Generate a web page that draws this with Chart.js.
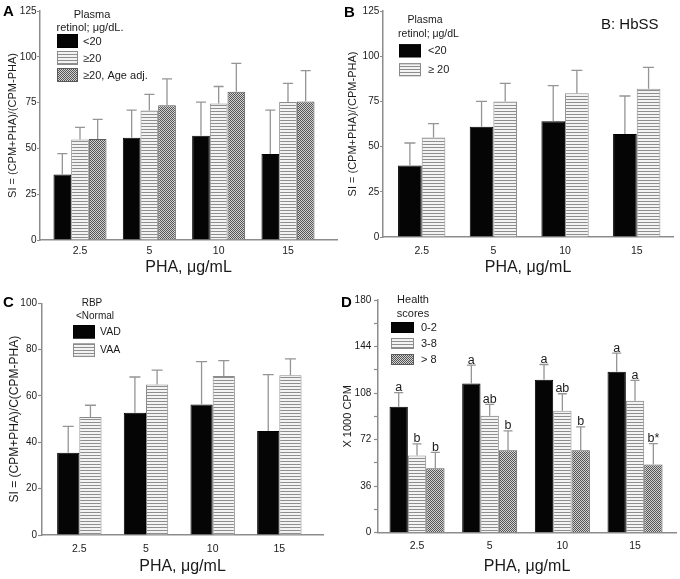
<!DOCTYPE html>
<html><head><meta charset="utf-8">
<script src="https://cdn.jsdelivr.net/npm/chart.js@4.4.1/dist/chart.umd.min.js"></script>
<style>
html,body{margin:0;padding:0;background:#fff;}
#wrap{position:relative;width:680px;height:579px;overflow:hidden;background:#fff;}
.panel{position:absolute;}
.panel canvas{display:block;}
.tag{position:absolute;font-family:Arial,"Liberation Sans",Helvetica,sans-serif;font-weight:bold;font-size:15px;line-height:15px;color:#000;}
.note{position:absolute;font-family:Arial,"Liberation Sans",Helvetica,sans-serif;font-size:15px;line-height:15px;color:#111;}
</style></head><body>
<div id="wrap">
  <div class="panel" style="left:0;top:0"><canvas id="cA" width="340" height="290"></canvas></div>
  <div class="panel" style="left:340px;top:0"><canvas id="cB" width="340" height="290"></canvas></div>
  <div class="panel" style="left:0;top:290px"><canvas id="cC" width="340" height="289"></canvas></div>
  <div class="panel" style="left:340px;top:290px"><canvas id="cD" width="340" height="289"></canvas></div>
  <div class="tag" style="left:3px;top:3px">A</div>
  <div class="tag" style="left:344px;top:4px">B</div>
  <div class="tag" style="left:3px;top:294px">C</div>
  <div class="tag" style="left:341px;top:294px">D</div>
  <div class="note" style="left:601px;top:16px">B: HbSS</div>
</div>
<script>
// ---------- data ----------
const categories = ['2.5', '5', '10', '15'];
const xAxisTitle = 'PHA, \u03bcg/mL';

// Panel A
const aLegendTitle = ['Plasma', 'retinol; \u03bcg/dL.'];
const aSeriesNames = ['<20', '\u226520', '\u226520, Age adj.'];
const aYTitle = 'SI = (CPM+PHA)/(CPM-PHA)';
const aLow = [35.8, 55.8, 56.9, 46.9];
const aLowSD = [11.3, 15.1, 18.4, 24.0];
const aHigh = [54.9, 70.7, 74.5, 75.3];
const aHighSD = [6.6, 8.8, 9.3, 10.2];
const aAdj = [55.1, 73.6, 80.9, 75.6];
const aAdjSD = [10.7, 14.4, 15.5, 16.9];

// Panel B
const bLegendTitle = ['Plasma', 'retinol; \u03bcg/dL'];
const bSeriesNames = ['<20', '\u2265 20'];
const bYTitle = 'SI = (CPM+PHA)/(CPM-PHA)';
const bLow = [39.5, 61.0, 64.0, 57.0];
const bLowSD = [12.5, 14.0, 19.7, 21.0];
const bHigh = [55.0, 75.0, 79.5, 82.0];
const bHighSD = [7.7, 10.0, 12.7, 11.8];

// Panel C
const cLegendTitle = ['RBP', '<Normal'];
const cSeriesNames = ['VAD', 'VAA'];
const cYTitle = 'SI = (CPM+PHA)/C(CPM-PHA)';
const cLow = [35.5, 52.8, 56.3, 44.9];
const cLowSD = [11.4, 15.4, 18.5, 24.3];
const cHigh = [50.9, 65.0, 68.6, 68.9];
const cHighSD = [5.1, 6.2, 6.7, 7.1];

// Panel D
const dLegendTitle = ['Health', 'scores'];
const dSeriesNames = ['0-2', '3-8', '> 8'];
const dYTitle = 'X 1000 CPM';
const dLow = [97.5, 115.5, 118.3, 124.5];
const dLowSD = [10.8, 14.1, 11.8, 14.4];
const dLowSig = ['a', 'a', 'a', 'a'];
const dMid = [59.7, 90.5, 94.4, 102.1];
const dMidSD = [9.0, 8.8, 13.1, 15.7];
const dMidSig = ['b', 'ab', 'ab', 'a'];
const dHigh = [49.9, 63.8, 63.8, 52.7];
const dHighSD = [12.3, 14.9, 18.0, 16.2];
const dHighSig = ['b', 'b', 'b', 'b*'];

// ---------- styling ----------
const FONT = 'Arial, "Liberation Sans", Helvetica, sans-serif';
const AXIS = '#8c8c8c';
const TXT = '#1a1a1a';

function stripePattern() {
  const c = document.createElement('canvas'); c.width = 4; c.height = 3;
  const g = c.getContext('2d');
  g.fillStyle = '#f3f3f3'; g.fillRect(0, 0, 4, 3);
  g.fillStyle = '#8e8e8e'; g.fillRect(0, 0, 4, 1);
  return g.createPattern(c, 'repeat');
}
function checkPattern() {
  const c = document.createElement('canvas'); c.width = 2; c.height = 2;
  const g = c.getContext('2d');
  g.fillStyle = '#d2d2d2'; g.fillRect(0, 0, 2, 2);
  g.fillStyle = '#555555'; g.fillRect(0, 0, 1, 1); g.fillRect(1, 1, 1, 1);
  return g.createPattern(c, 'repeat');
}
const FILL = { solid: '#050505', stripe: stripePattern(), check: checkPattern() };
const EDGE = { solid: '#000000', stripe: '#8a8a8a', check: '#5a5a5a' };

function legendPlugin(L) {
  return {
    id: 'panelLegend',
    afterDraw(chart) {
      const ctx = chart.ctx;
      ctx.save();
      ctx.fillStyle = TXT; ctx.textAlign = 'center'; ctx.textBaseline = 'middle';
      ctx.font = L.titleSize + 'px ' + FONT;
      L.title.forEach((t, k) => ctx.fillText(t, L.titleX[k], L.titleY[k]));
      ctx.textAlign = 'left'; ctx.font = L.size + 'px ' + FONT;
      chart.data.datasets.forEach((ds, k) => {
        const top = L.boxTop + k * L.gap;
        ctx.fillStyle = ds.backgroundColor;
        ctx.fillRect(L.boxX, top, L.boxW, L.boxH);
        ctx.strokeStyle = ds.borderColor; ctx.lineWidth = 1;
        ctx.strokeRect(L.boxX + 0.5, top + 0.5, L.boxW - 1, L.boxH - 1);
        ctx.fillStyle = TXT;
        ctx.fillText(ds.label, L.labelX, top + L.boxH / 2 + 0.5);
      });
      ctx.restore();
    }
  };
}

function errorPlugin(E) {
  return {
    id: 'errorBars',
    afterDatasetsDraw(chart) {
      const ctx = chart.ctx, ys = chart.scales.y;
      chart.data.datasets.forEach((ds, di) => {
        const meta = chart.getDatasetMeta(di);
        meta.data.forEach((bar, i) => {
          const yTop = ys.getPixelForValue(ds.data[i].y + ds.sd[i]);
          ctx.save();
          ctx.strokeStyle = '#959595'; ctx.lineWidth = 1.3;
          ctx.beginPath();
          ctx.moveTo(bar.x, bar.y); ctx.lineTo(bar.x, yTop);
          ctx.moveTo(bar.x - E.cap, yTop); ctx.lineTo(bar.x + E.cap, yTop);
          ctx.stroke();
          if (ds.sig) {
            ctx.fillStyle = TXT; ctx.font = E.sigSize + 'px ' + FONT;
            ctx.textAlign = 'center'; ctx.textBaseline = 'alphabetic';
            ctx.fillText(ds.sig[i], bar.x, yTop - 1.5);
          }
          ctx.restore();
        });
      });
    }
  };
}

function panel(id, p) {
  const datasets = p.series.map(s => ({
    label: s.name,
    data: s.values.map((v, i) => ({ x: i, y: v })),
    sd: s.sd, sig: s.sig || null,
    backgroundColor: FILL[s.style], borderColor: EDGE[s.style], borderWidth: 1,
    categoryPercentage: p.catPct, barPercentage: 1
  }));
  return new Chart(document.getElementById(id), {
    type: 'bar',
    data: { datasets },
    options: {
      responsive: false, animation: false, events: [],
      layout: { padding: { left: 0, right: p.padRight, top: p.padTop, bottom: 0 } },
      plugins: { legend: { display: false }, tooltip: { enabled: false } },
      scales: {
        x: {
          type: 'linear', min: p.xMin, max: p.xMax, offset: false,
          afterFit: s => { s.height = p.xHeight; },
          afterBuildTicks: s => { s.ticks = categories.map((c, i) => ({ value: i })); },
          ticks: { callback: v => categories[v], autoSkip: false, maxRotation: 0,
                   font: { family: FONT, size: 10.5 }, color: TXT, padding: p.xTickPad },
          grid: { display: false, drawTicks: false, tickLength: 0 },
          border: { display: true, color: AXIS, width: 1.5 },
          title: { display: true, text: xAxisTitle, color: TXT,
                   font: { family: FONT, size: 16 }, padding: { top: 0, bottom: p.xTitlePad } }
        },
        y: {
          min: 0, max: p.yMax,
          afterFit: s => { s.width = p.yWidth; },
          ticks: { stepSize: p.yStep, font: { family: FONT, size: 10 }, color: TXT, padding: p.tickPad,
                   callback: v => (v % p.yLabelStep === 0 ? String(v) : '') },
          grid: { drawOnChartArea: false, drawTicks: true, tickLength: p.tickLen, tickColor: AXIS, tickWidth: 1.2 },
          border: { display: true, color: AXIS, width: 1.5 },
          title: { display: true, text: p.yTitle, color: TXT,
                   font: { family: FONT, size: p.yTitleSize }, padding: { top: p.yTitlePad, bottom: 0 } }
        }
      }
    },
    plugins: [errorPlugin(p.err), legendPlugin(p.legend)]
  });
}

panel('cA', {
  series: [
    { name: aSeriesNames[0], values: aLow, sd: aLowSD, style: 'solid' },
    { name: aSeriesNames[1], values: aHigh, sd: aHighSD, style: 'stripe' },
    { name: aSeriesNames[2], values: aAdj, sd: aAdjSD, style: 'check' }
  ],
  xMin: -0.577, xMax: 3.707, padTop: 11, padRight: 3, yWidth: 40, xHeight: 50,
  yMax: 125, yStep: 25, yLabelStep: 25, catPct: 0.765, xTickPad: 5, xTitlePad: 13,
  yTitle: aYTitle, yTitleSize: 11, yTitlePad: 6.4, tickLen: 3, tickPad: 0.5,
  err: { cap: 5 },
  legend: { title: aLegendTitle, titleX: [92, 90], titleY: [14.5, 28], titleSize: 11,
            boxX: 57, boxW: 21, boxH: 14, boxTop: 34, gap: 17, labelX: 83, size: 11 }
});

panel('cB', {
  series: [
    { name: bSeriesNames[0], values: bLow, sd: bLowSD, style: 'solid' },
    { name: bSeriesNames[1], values: bHigh, sd: bHighSD, style: 'stripe' }
  ],
  xMin: -0.54, xMax: 3.506, padTop: 11, padRight: 7, yWidth: 43, xHeight: 53,
  yMax: 125, yStep: 25, yLabelStep: 25, catPct: 0.66, xTickPad: 7.5, xTitlePad: 12.4,
  yTitle: bYTitle, yTitleSize: 11, yTitlePad: 6.4, tickLen: 3, tickPad: 0.7,
  err: { cap: 5.5 },
  legend: { title: bLegendTitle, titleX: [85, 88.5], titleY: [20, 34], titleSize: 10.5,
            boxX: 59, boxW: 22, boxH: 13, boxTop: 44.3, gap: 19, labelX: 88, size: 11 }
});

panel('cC', {
  series: [
    { name: cSeriesNames[0], values: cLow, sd: cLowSD, style: 'solid' },
    { name: cSeriesNames[1], values: cHigh, sd: cHighSD, style: 'stripe' }
  ],
  xMin: -0.56, xMax: 3.655, padTop: 13.3, padRight: 17, yWidth: 42, xHeight: 44,
  yMax: 100, yStep: 20, yLabelStep: 20, catPct: 0.666, xTickPad: 7.5, xTitlePad: 2.4,
  yTitle: cYTitle, yTitleSize: 12, yTitlePad: 7.8, tickLen: 4, tickPad: 1,
  err: { cap: 5.5 },
  legend: { title: cLegendTitle, titleX: [92, 95], titleY: [13.5, 26], titleSize: 10,
            boxX: 73, boxW: 22, boxH: 13.5, boxTop: 35, gap: 18.3, labelX: 100, size: 10.5 }
});

panel('cD', {
  series: [
    { name: dSeriesNames[0], values: dLow, sd: dLowSD, sig: dLowSig, style: 'solid' },
    { name: dSeriesNames[1], values: dMid, sd: dMidSD, sig: dMidSig, style: 'stripe' },
    { name: dSeriesNames[2], values: dHigh, sd: dHighSD, sig: dHighSig, style: 'check' }
  ],
  xMin: -0.537, xMax: 3.564, padTop: 10, padRight: 4, yWidth: 38, xHeight: 46.3,
  yMax: 180, yStep: 18, yLabelStep: 36, catPct: 0.757, xTickPad: 7.5, xTitlePad: 2.4,
  yTitle: dYTitle, yTitleSize: 11, yTitlePad: 1, tickLen: 4, tickPad: 2.7,
  err: { cap: 4.5, sigSize: 12.5 },
  legend: { title: dLegendTitle, titleX: [73, 73], titleY: [10, 23.5], titleSize: 11,
            boxX: 51, boxW: 23, boxH: 11, boxTop: 32, gap: 16, labelX: 81, size: 11 }
});
</script>
</body></html>
